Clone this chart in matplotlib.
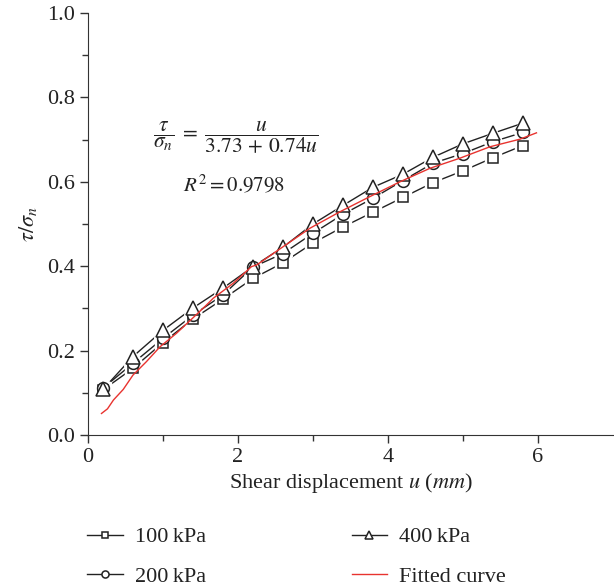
import numpy as np
import matplotlib
matplotlib.use("Agg")
import matplotlib.pyplot as plt

plt.rcParams['font.family'] = ['Liberation Serif', 'DejaVu Serif']
plt.rcParams['mathtext.fontset'] = 'stix'

# shear displacement (mm)
u = [0.2, 0.6, 1.0, 1.4, 1.8, 2.2, 2.6, 3.0, 3.4, 3.8, 4.2, 4.6, 5.0, 5.4, 5.8]

# tau/sigma_n for each normal stress
kpa100 = [0.107, 0.158, 0.219, 0.275, 0.322, 0.371, 0.408, 0.455, 0.493, 0.528,
          0.563, 0.598, 0.626, 0.657, 0.686]
kpa200 = [0.111, 0.170, 0.229, 0.284, 0.332, 0.398, 0.430, 0.478, 0.523, 0.561,
          0.603, 0.644, 0.667, 0.695, 0.717]
kpa400 = [0.108, 0.186, 0.248, 0.301, 0.348, 0.399, 0.445, 0.500, 0.544, 0.587,
          0.618, 0.658, 0.690, 0.715, 0.739]

# fitted curve
fit_u = [0.18, 0.26, 0.34, 0.47, 0.60, 0.78, 0.96, 1.18, 1.39, 1.58, 1.67, 1.94,
         2.18, 2.25, 2.47, 2.60, 2.83, 2.96, 3.36, 3.76, 4.16, 4.56, 4.96, 5.36,
         5.76, 5.98]
fit_y = [0.051, 0.062, 0.083, 0.108, 0.142, 0.174, 0.209, 0.241, 0.276, 0.308,
         0.324, 0.360, 0.399, 0.403, 0.430, 0.446, 0.474, 0.490, 0.529, 0.565,
         0.600, 0.632, 0.656, 0.683, 0.701, 0.716]

fig = plt.figure(figsize=(6.14, 5.88), dpi=100)
ax = fig.add_axes([0.1433, 0.2602, 0.855, 0.7177])

series = [(kpa100, 's', 7.5, '100\u2009kPa'),
          (kpa200, 'o', 8.5, '200\u2009kPa'),
          (kpa400, '^', 9.5, '400\u2009kPa')]

handles = []
for ys, m, ms, lab in series:
    ax.plot(u, ys, '-', color='#222222', lw=1.0, zorder=1)
for ys, m, ms, lab in series:
    # white halo so the line stops short of the marker
    ax.plot(u, ys, m, ms=ms + 4, mfc='white', mec='white', zorder=2)
for ys, m, ms, lab in series:
    h, = ax.plot(u, ys, '-', marker=m, ms=ms, mfc='white', mec='#222222',
                 mew=1.1, color='#222222', lw=0, zorder=3, label=lab)
    handles.append(h)

fit, = ax.plot(fit_u, fit_y, color='#e8332f', lw=1.0, zorder=4, label='Fitted curve')

ax.set_xlim(0, 7)
ax.set_ylim(0, 1.0)
ax.set_xticks([0, 2, 4, 6])
ax.set_xticks([1, 3, 5], minor=True)
ax.set_yticks(np.arange(0, 1.01, 0.2))
ax.set_yticks(np.arange(0.1, 1.0, 0.2), minor=True)
ax.set_yticklabels(['0.0', '0.2', '0.4', '0.6', '0.8', '1.0'])
for s in ['top', 'right']:
    ax.spines[s].set_visible(False)
for s in ['left', 'bottom']:
    ax.spines[s].set_color('#333333')
ax.tick_params(which='major', direction='out', length=6, width=1, labelsize=16,
               color='#333333', labelcolor='#222222')
ax.tick_params(which='minor', direction='out', length=4, width=1, color='#333333')

ax.set_xlabel(r'Shear displacement $u$ ($mm$)', fontsize=16, labelpad=3,
              color='#222222')
ax.set_ylabel(r'$\tau/\sigma_n$', fontsize=16, labelpad=6, color='#222222')

ax.text(1.97, 0.706, r'$\dfrac{\tau}{\sigma_n}\;=\;\dfrac{u}{3.73\,+\,0.74u}$',
        fontsize=15.5, ha='center', va='center', color='#222222')
ax.text(1.95, 0.592, r'$R^2 = 0.9798$', fontsize=15, ha='center', va='center',
        color='#222222')

leg_handles = [handles[0], handles[1], handles[2], fit]
leg = fig.legend(leg_handles, [h.get_label() for h in leg_handles], ncol=2,
                 loc='upper left', bbox_to_anchor=(0.142, 0.104), frameon=False,
                 fontsize=16, handlelength=1.6, handletextpad=0.55,
                 labelspacing=0.85, columnspacing=6.55, markerscale=0.6,
                 borderaxespad=0, borderpad=0)
for t in leg.get_texts():
    t.set_color('#222222')
for lh in leg.legend_handles[:3]:
    lh.set_linewidth(1.0)

fig.savefig('out.png', dpi=100)
